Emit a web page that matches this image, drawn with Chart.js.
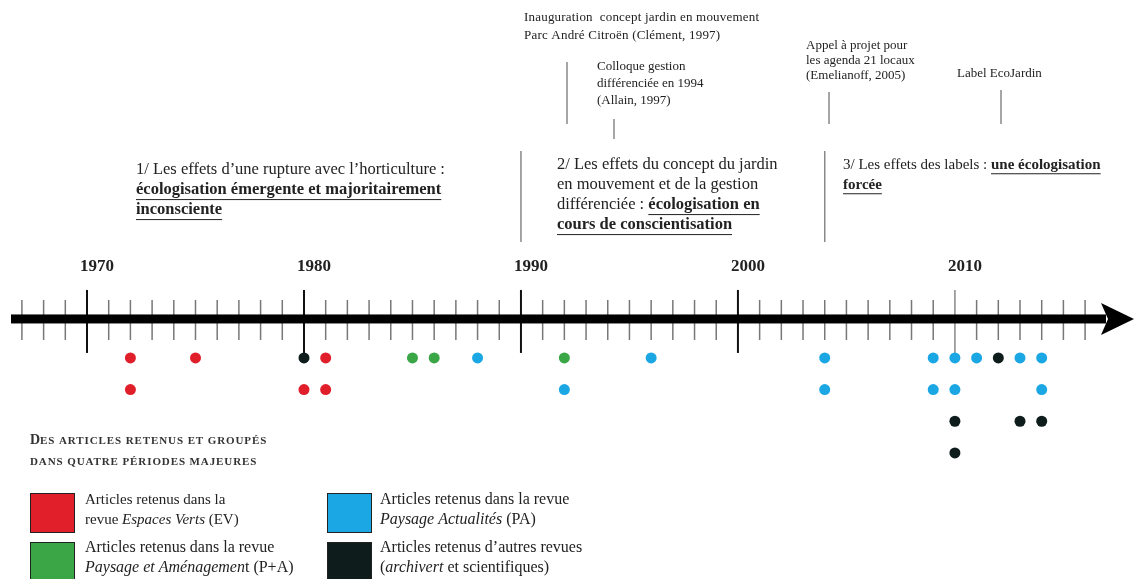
<!DOCTYPE html>
<html>
<head>
<meta charset="utf-8">
<script src="https://cdn.jsdelivr.net/npm/chart.js@4/dist/chart.umd.min.js"></script>
<style>
  body { margin: 0; background: #fff; }
  canvas { display: block; }
</style>
</head>
<body>
<canvas id="chart" width="1135" height="579"></canvas>
<script>
'use strict';

// articles per revue : year + row (rows stack under the axis)
const evYears = [1972, 1975, 1981, 1972, 1980, 1981];
const evRows = [1, 1, 1, 2, 2, 2];
const paeYears = [1985, 1986, 1992];
const paeRows = [1, 1, 1];
const paYears = [1988, 1996, 2004, 2009, 2010, 2011, 2013, 2014, 1992, 2004, 2009, 2010, 2014];
const paRows = [1, 1, 1, 1, 1, 1, 1, 1, 2, 2, 2, 2, 2];
const otherYears = [1980, 2012, 2010, 2013, 2014, 2010];
const otherRows = [1, 1, 3, 3, 3, 4];

const decadeYears = [1970, 1980, 1990, 2000, 2010];
const firstTick = 1967;
const lastTick = 2016;

const seriesNames = ['Espaces Verts (EV)', 'Paysage et Aménagement (P+A)', 'Paysage Actualités (PA)', 'Autres revues'];
const seriesColors = ['#e01f2b', '#3aa646', '#1aa7e4', '#0e1c1c'];

function toPoints(years, rows) {
  const pts = [];
  for (var i = 0; i < years.length; i++) {
    pts.push({x: years[i], y: rows[i]});
  }
  return pts;
}

const SERIF = '"Liberation Serif", "DejaVu Serif", serif';

// draws a line made of plain / bold-underlined / italic parts
function drawRich(ctx, parts, x, y, size) {
  let cx = x;
  parts.forEach(p => {
    ctx.font = (p.i ? 'italic ' : '') + (p.b ? 'bold ' : '') + size + 'px ' + SERIF;
    ctx.fillText(p.t, cx, y);
    const w = ctx.measureText(p.t).width;
    if (p.u) {
      ctx.fillRect(cx, y + size * 0.55, w, 1);
    }
    cx += w;
  });
}

const timelinePlugin = {
  id: 'timeline',
  beforeDatasetsDraw(chart) {
    const ctx = chart.ctx;
    const xs = chart.scales.x;
    const ys = chart.scales.y;
    const axisY = ys.getPixelForValue(-0.23);
    const px = v => xs.getPixelForValue(v);

    ctx.save();
    // yearly ticks
    for (var yr = firstTick; yr <= lastTick; yr++) {
      const x = px(yr);
      if (decadeYears.indexOf(yr) >= 0 && yr < 2010) {
        ctx.strokeStyle = '#111';
        ctx.lineWidth = 2;
        ctx.beginPath(); ctx.moveTo(x, axisY - 29); ctx.lineTo(x, axisY + 34); ctx.stroke();
      } else if (yr === 2010) {
        ctx.strokeStyle = '#888';
        ctx.lineWidth = 1.5;
        ctx.beginPath(); ctx.moveTo(x, axisY - 29); ctx.lineTo(x, axisY + 44); ctx.stroke();
      } else {
        ctx.strokeStyle = '#777';
        ctx.lineWidth = 1.5;
        ctx.beginPath(); ctx.moveTo(x, axisY - 19); ctx.lineTo(x, axisY + 21); ctx.stroke();
      }
    }
    // the 1980 tick runs down to the first dot
    ctx.strokeStyle = '#111';
    ctx.lineWidth = 2;
    ctx.beginPath(); ctx.moveTo(px(1980), axisY); ctx.lineTo(px(1980), ys.getPixelForValue(1)); ctx.stroke();

    // axis + arrow
    ctx.fillStyle = '#000';
    ctx.fillRect(11, axisY - 4.5, 1095, 9);
    ctx.beginPath();
    ctx.moveTo(1101, axisY - 16);
    ctx.lineTo(1134, axisY);
    ctx.lineTo(1101, axisY + 16);
    ctx.lineTo(1108, axisY);
    ctx.closePath();
    ctx.fill();

    // decade labels
    ctx.fillStyle = '#222';
    ctx.font = 'bold 17px ' + SERIF;
    ctx.textAlign = 'center';
    ctx.textBaseline = 'middle';
    decadeYears.forEach(d => ctx.fillText(String(d), px(d) + 10, 267));

    // period separators
    ctx.strokeStyle = '#888';
    ctx.lineWidth = 1.5;
    [1990, 2004].forEach(d => {
      ctx.beginPath(); ctx.moveTo(px(d), 151); ctx.lineTo(px(d), 242); ctx.stroke();
    });

    // event markers at the top
    const marks = [[567, 62, 124], [614, 119, 139], [829, 92, 124], [1001, 90, 124]];
    marks.forEach(m => {
      ctx.beginPath(); ctx.moveTo(m[0], m[1]); ctx.lineTo(m[0], m[2]); ctx.stroke();
    });

    ctx.textAlign = 'left';
    ctx.fillStyle = '#222';
    ctx.font = '13px ' + SERIF;
    ctx.letterSpacing = '0.2px';
    ctx.fillText('Inauguration  concept jardin en mouvement', 524, 18);
    ctx.fillText('Parc André Citroën (Clément, 1997)', 524, 36);
    ctx.letterSpacing = '0px';
    ctx.fillText('Colloque gestion', 597, 67);
    ctx.fillText('différenciée en 1994', 597, 84);
    ctx.fillText('(Allain, 1997)', 597, 101);
    ctx.fillText('Appel à projet pour', 806, 46);
    ctx.fillText('les agenda 21 locaux', 806, 61);
    ctx.fillText('(Emelianoff, 2005)', 806, 76);
    ctx.fillText('Label EcoJardin', 957, 74);

    // period texts
    const fs = 16.5;
    drawRich(ctx, [{t: '1/ Les effets d\u2019une rupture avec l\u2019horticulture :'}], 136, 170, fs);
    drawRich(ctx, [{t: 'écologisation émergente et majoritairement', b: true, u: true}], 136, 190, fs);
    drawRich(ctx, [{t: 'inconsciente', b: true, u: true}], 136, 210, fs);

    drawRich(ctx, [{t: '2/ Les effets du concept du jardin'}], 557, 165, fs);
    drawRich(ctx, [{t: 'en mouvement et de la gestion'}], 557, 185, fs);
    drawRich(ctx, [{t: 'différenciée : '}, {t: 'écologisation en', b: true, u: true}], 557, 205, fs);
    drawRich(ctx, [{t: 'cours de conscientisation', b: true, u: true}], 557, 225, fs);

    drawRich(ctx, [{t: '3/ Les effets des labels : '}, {t: 'une écologisation', b: true, u: true}], 843, 165, 15);
    drawRich(ctx, [{t: 'forcée', b: true, u: true}], 843, 185, 15);

    // legend title in small caps
    ctx.fillStyle = '#333';
    ctx.font = 'bold 14px ' + SERIF;
    ctx.fillText('D', 30, 440);
    const dW = ctx.measureText('D').width;
    ctx.font = 'bold 11px ' + SERIF;
    ctx.letterSpacing = '0.9px';
    ctx.fillText('ES ARTICLES RETENUS ET GROUPÉS', 30 + dW, 441);
    ctx.fillText('DANS QUATRE PÉRIODES MAJEURES', 30, 462);
    ctx.letterSpacing = '0px';

    // legend boxes
    const boxes = [[30, 493, 0], [30, 542, 1], [327, 493, 2], [327, 542, 3]];
    boxes.forEach(b => {
      ctx.fillStyle = seriesColors[b[2]];
      ctx.fillRect(b[0], b[1], 45, 40);
      ctx.strokeStyle = '#222';
      ctx.lineWidth = 1;
      ctx.strokeRect(b[0] + 0.5, b[1] + 0.5, 44, 39);
    });
    ctx.fillStyle = '#222';
    drawRich(ctx, [{t: 'Articles retenus dans la'}], 85, 500, 15);
    drawRich(ctx, [{t: 'revue '}, {t: 'Espaces Verts', i: true}, {t: ' (EV)'}], 85, 520, 15);
    drawRich(ctx, [{t: 'Articles retenus dans la revue'}], 85, 548, 16);
    drawRich(ctx, [{t: 'Paysage et Aménagemen', i: true}, {t: 't (P+A)'}], 85, 568, 16);
    drawRich(ctx, [{t: 'Articles retenus dans la revue'}], 380, 500, 16);
    drawRich(ctx, [{t: 'Paysage Actualités', i: true}, {t: ' (PA)'}], 380, 520, 16);
    drawRich(ctx, [{t: 'Articles retenus d\u2019autres revues'}], 380, 548, 16);
    drawRich(ctx, [{t: '('}, {t: 'archivert', i: true}, {t: ' et scientifiques)'}], 380, 568, 16);
    ctx.restore();
  }
};

const ctx = document.getElementById('chart').getContext('2d');
const datasets = [
  toPoints(evYears, evRows),
  toPoints(paeYears, paeRows),
  toPoints(paYears, paRows),
  toPoints(otherYears, otherRows)
].map((pts, i) => ({
  label: seriesNames[i],
  data: pts,
  backgroundColor: seriesColors[i],
  borderColor: seriesColors[i],
  pointRadius: 5.5,
  pointBorderWidth: 0
}));

new Chart(ctx, {
  type: 'scatter',
  data: {datasets: datasets},
  options: {
    responsive: false,
    animation: false,
    layout: {padding: 0, autoPadding: false},
    plugins: {legend: {display: false}, tooltip: {enabled: false}},
    scales: {
      x: {type: 'linear', display: false, min: 1965.99, max: 2018.3},
      y: {type: 'linear', display: false, reverse: true, min: -10.30, max: 7.98}
    }
  },
  plugins: [timelinePlugin]
});
</script>
</body>
</html>
